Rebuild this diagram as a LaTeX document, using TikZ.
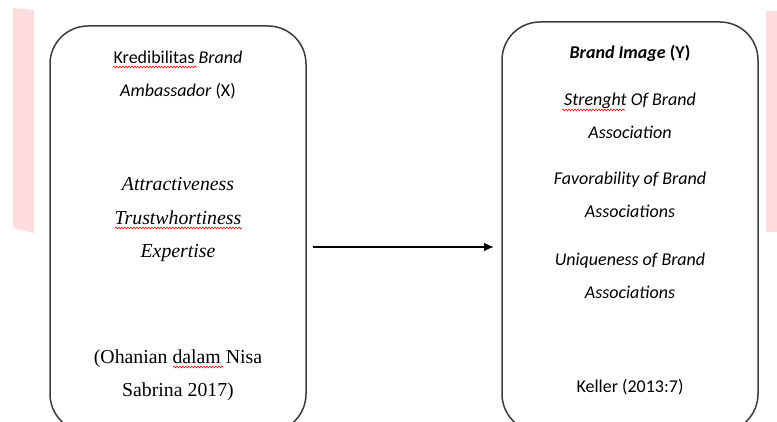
\documentclass[tikz,border=0pt]{standalone}
\usepackage{fontspec}
\setmainfont{Carlito}
\newfontfamily\timesfont{Liberation Serif}
\usetikzlibrary{decorations.pathmorphing,arrows.meta}
\definecolor{pinkband}{RGB}{255,220,224}
\definecolor{boxline}{RGB}{60,60,60}
\begin{document}
\begin{tikzpicture}[x=1pt,y=-1pt,
  box/.style={draw=boxline, line width=1.5pt, rounded corners=38pt},
  cal/.style={anchor=base, inner sep=0pt, font=\fontsize{18}{18}\selectfont},
  tms/.style={anchor=base, inner sep=0pt, font=\timesfont\fontsize{19.8}{19.8}\selectfont},
  squiggle/.style={red, line width=0.6pt, decorate, decoration={snake, amplitude=0.9pt, segment length=3pt}}]
\clip (0,0) rectangle (777,422);
\fill [pinkband] (13,8)--(34,10)--(34,233)--(13,228)--cycle;
\fill [pinkband] (766,11)--(777,11)--(777,232)--(766,232)--cycle;
\draw [box] (50,26) rectangle (306,432);
\draw [box] (502,22) rectangle (758,432);
\coordinate (xbox) at (306,247);
\coordinate (ybox) at (502,247);
\draw [line width=2pt, -{Latex[length=10pt,width=9pt]}] ([xshift=7pt]xbox) -- ([xshift=-8pt]ybox);
\node [cal] (kred) at (178,64) {Kredibilitas \textit{Brand}};
\node [cal] (amb) at (178,97) {\textit{Ambassador} (X)};
\node [tms] (attr) at (178,191) {\textit{Attractiveness}};
\node [tms] (trust) at (178,225) {\textit{Trustwhortiness}};
\node [tms] (expert) at (178,258) {\textit{Expertise}};
\node [tms] (ohan) at (178,363) {(Ohanian dalam Nisa};
\node [tms] (sabr) at (178,396) {Sabrina 2017)};
\node [cal] (bimg) at (630,59) {\textbf{\textit{Brand Image} (Y)}};
\node [cal] (str) at (630,106) {\textit{Strenght Of Brand}};
\node [cal] (str2) at (630,139) {\textit{Association}};
\node [cal] (fav) at (630,185) {\textit{Favorability of Brand}};
\node [cal] (fav2) at (630,218) {\textit{Associations}};
\node [cal] (uniq) at (630,266) {\textit{Uniqueness of Brand}};
\node [cal] (uniq2) at (630,299) {\textit{Associations}};
\node [cal] (kell) at (630,392) {Keller (2013:7)};
\draw [squiggle] (113,67) -- (197,67);
\draw [squiggle] (115,228) -- (242,228);
\draw [squiggle] (173,367) -- (223,367);
\draw [squiggle] (562,110) -- (625,110);
\end{tikzpicture}
\end{document}
